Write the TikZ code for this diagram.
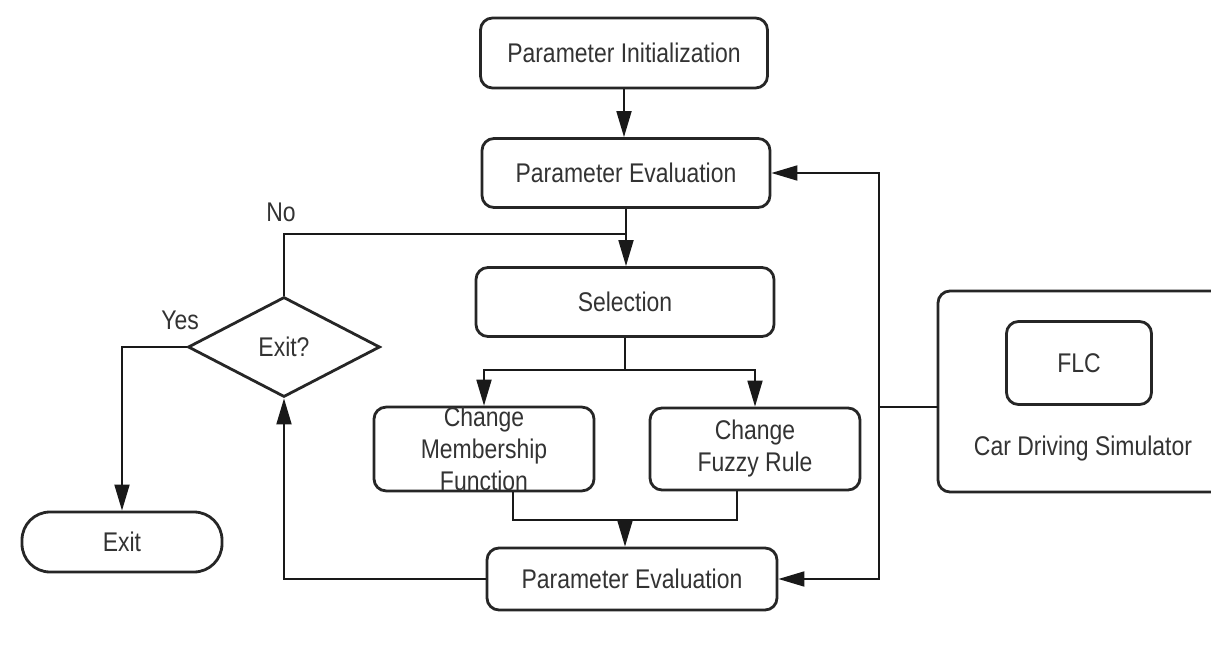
\documentclass[tikz,border=0pt]{standalone}
\usepackage{fontspec}
\setmainfont{Liberation Sans}[FakeStretch=0.85]
\usetikzlibrary{shapes.geometric,arrows.meta}
\begin{document}
\begin{tikzpicture}[x=1pt,y=-1pt,
  box/.style={draw=black!85,line width=2.8pt,rounded corners=12pt,fill=white,
    text=black!80,font=\fontsize{27}{32}\selectfont,align=center,inner sep=0pt},
  conn/.style={draw=black!90,line width=1.8pt},
  arr/.style={conn,-{Triangle[length=26pt,width=15pt]}},
  lbl/.style={text=black!80,font=\fontsize{27}{32}\selectfont,inner sep=0pt}]
\clip (0,0) rectangle (1211,671);
\fill[white] (0,0) rectangle (1211,671);
% nodes
\node[box,minimum width=287pt,minimum height=70pt] (pinit) at (624,53) {Parameter Initialization};
\node[box,minimum width=288pt,minimum height=69pt] (peval1) at (626,173) {Parameter Evaluation};
\node[box,minimum width=298pt,minimum height=69pt] (sel) at (625,302) {Selection};
\node[box,minimum width=220pt,minimum height=82pt] (cmf) at (484,449) {Change\\Membership\\Function};
\node[box,minimum width=210pt,minimum height=82pt] (cfr) at (755,449) {Change\\Fuzzy Rule};
\node[box,minimum width=290pt,minimum height=62pt] (peval2) at (632,579) {Parameter Evaluation};
\node[box,diamond,rounded corners=0pt,minimum width=192pt,minimum height=100pt] (exitq) at (284,347) {Exit?};
\node[box,rounded corners=28pt,minimum width=200pt,minimum height=60pt] (exit) at (122,542) {Exit};
\node[box,minimum width=292pt,minimum height=201pt] (sim) at (1084,391.5) {};
\node[box,minimum width=145pt,minimum height=83pt] (flc) at (1079,363) {FLC};
\node[lbl] (simlbl) at (1083,449) {Car Driving Simulator};
\node[lbl] (no) at (281,212) {No};
\node[lbl] (yes) at (180,320) {Yes};
% coordinates
\coordinate (nj) at (625,234);
\coordinate (sj) at (625,370);
\coordinate (jr) at (879,407);
\coordinate (sl) at (938,407);
\coordinate (m1) at (513,520);
\coordinate (m2) at (737,520);
\coordinate (mj) at (625,520);
% connectors
\draw[arr] (pinit.south) -- (pinit.south |- peval1.north);
\draw[arr] (peval1.south) -- (peval1.south |- sel.north);
\draw[conn] (exitq.north) |- (nj);
\draw[conn] (sel.south) -- (sj);
\draw[arr] (sj) -| (cmf.north);
\draw[arr] (sj) -| (cfr.north);
\draw[conn] (m1 |- cmf.south) -- (m1) -- (m2) -- (m2 |- cfr.south);
\draw[arr] (mj) -- (mj |- peval2.north);
\draw[arr] (peval2.west) -| (exitq.south);
\draw[arr] (exitq.west) -| (exit.north);
\draw[conn] (sl) -- (jr);
\draw[arr] (jr) |- (peval1.east);
\draw[arr] (jr) |- (peval2.east);
\end{tikzpicture}
\end{document}
